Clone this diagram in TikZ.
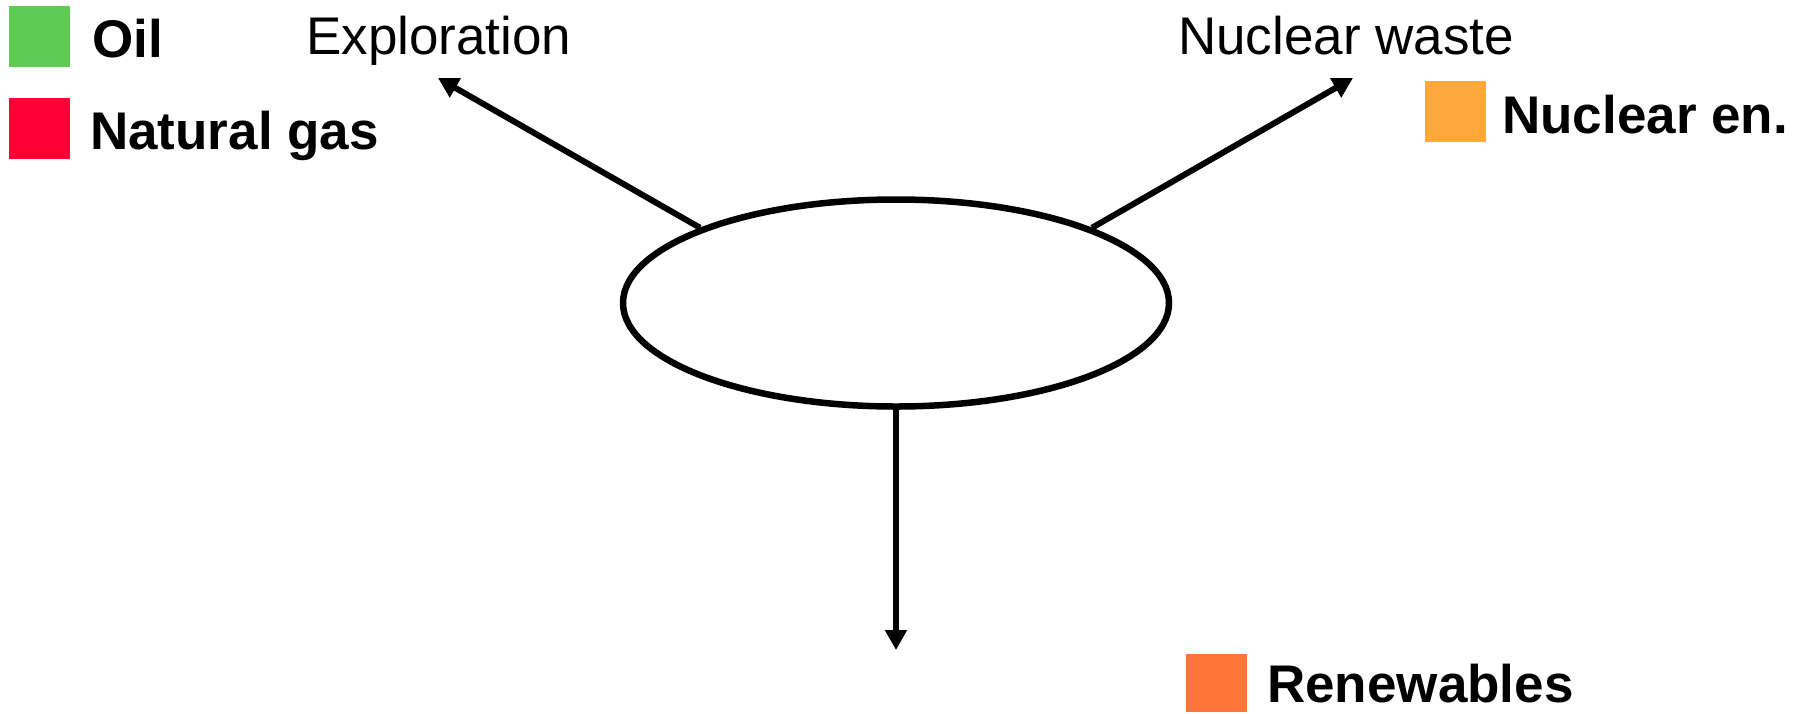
\documentclass[tikz,border=0pt]{standalone}
\usepackage{fontspec}
\setmainfont{Liberation Sans}
\usetikzlibrary{arrows.meta,shapes.geometric}
\definecolor{oilc}{HTML}{5ECB55}
\definecolor{gasc}{HTML}{FF0035}
\definecolor{nucc}{HTML}{FFA83C}
\definecolor{renc}{HTML}{FF7638}
\begin{document}
\begin{tikzpicture}[x=1pt,y=-1pt,
  txt/.style={inner sep=0pt,anchor=base west,font=\fontsize{53}{60}\selectfont},
  btxt/.style={txt,font=\fontsize{53}{60}\selectfont\bfseries},
  swatch/.style={inner sep=0pt,minimum width=61pt,minimum height=61pt,anchor=north west},
  conn/.style={line width=6pt,-{Triangle[length=20pt,width=21pt]}}]
\useasboundingbox (0,0) rectangle (1806,713);
% legend
\node[swatch,fill=oilc] (sqoil) at (9,6) {};
\node[btxt] (oil) at (92,57) {Oil};
\node[swatch,fill=gasc] (sqgas) at (9,98) {};
\node[btxt] (gas) at (90,149) {Natural gas};
\node[swatch,fill=nucc] (sqnuc) at (1425,81) {};
\node[btxt] (nuc) at (1502,133) {Nuclear en.};
\node[swatch,fill=renc,minimum height=58pt] (sqren) at (1186,654) {};
\node[btxt] (ren) at (1267,702) {Renewables};
% labels
\node[txt] (expl) at (306,54) {Exploration};
\node[txt] (waste) at (1178,54) {Nuclear waste};
% ellipse
\node[ellipse,draw,line width=6.5pt,inner sep=0pt,minimum width=546pt,minimum height=207pt] (el) at (896,303) {};
\coordinate (t1) at (438,78);
\coordinate (t2) at (1353,78);
\coordinate (t3) at (896,650);
\draw[conn] (el.159) -- (t1);
\draw[conn] (el.21) -- (t2);
\draw[conn] (el.270) -- (t3);
\end{tikzpicture}
\end{document}
